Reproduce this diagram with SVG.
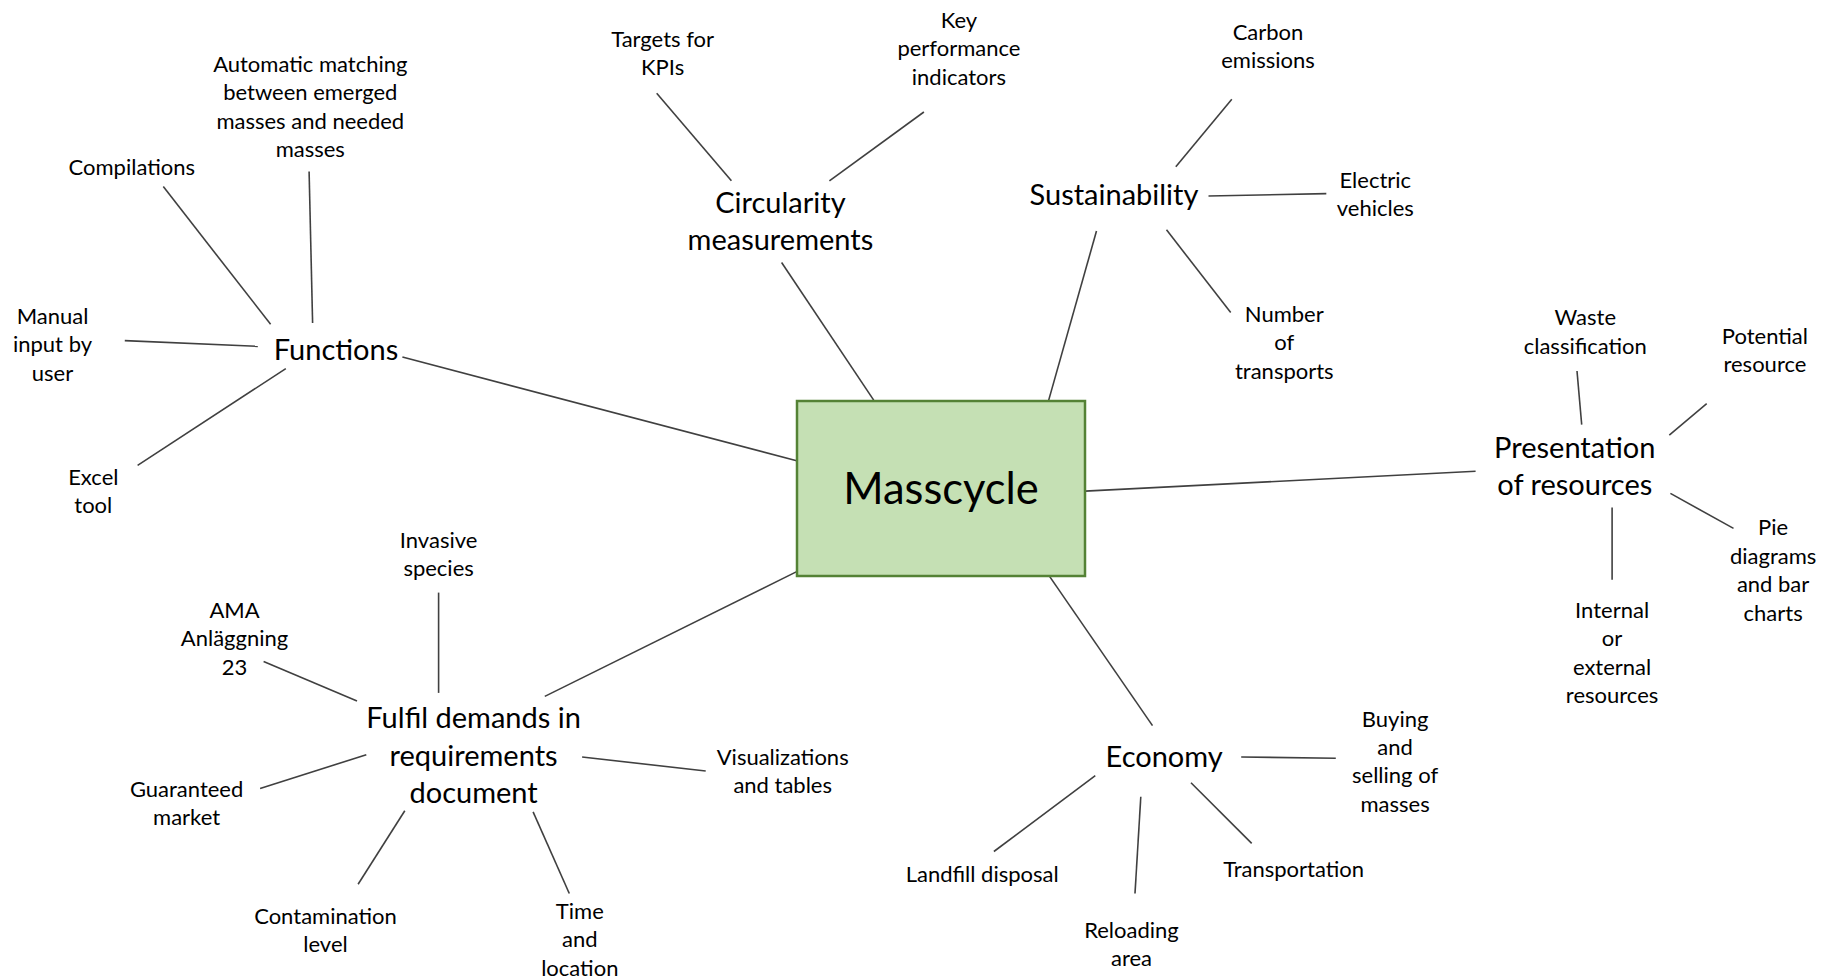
<svg xmlns="http://www.w3.org/2000/svg" width="1829" height="978" viewBox="0 0 1829 978">
<style>
.bg{fill:#ffffff}
.c line{stroke:#404040;stroke-width:1.6;fill:none}
.s{font-family:Lato,"Open Sans","Liberation Sans",sans-serif;font-size:22px;fill:#000;text-anchor:middle}
.b{font-family:Lato,"Open Sans","Liberation Sans",sans-serif;font-size:29px;fill:#000;text-anchor:middle}
.m{font-family:Lato,"Open Sans","Liberation Sans",sans-serif;font-size:43.5px;fill:#000;text-anchor:middle}
.box{fill:#C5E0B4;stroke:#548235;stroke-width:2.5}
</style>
<rect class="bg" x="0" y="0" width="1829" height="978"/>
<g id="connectors" class="c">
<line x1="163.3" y1="186.6" x2="270.6" y2="324.3"/>
<line x1="309.1" y1="171.5" x2="312.6" y2="323.1"/>
<line x1="124.8" y1="340.6" x2="257.8" y2="346.4"/>
<line x1="137.6" y1="465.4" x2="285.8" y2="368.6"/>
<line x1="402.4" y1="357" x2="796.7" y2="460.8"/>
<line x1="656.7" y1="93.3" x2="731.4" y2="180.8"/>
<line x1="923.9" y1="112" x2="829.4" y2="180.8"/>
<line x1="781.6" y1="262.5" x2="873.7" y2="400.1"/>
<line x1="1231.8" y1="99.2" x2="1175.8" y2="166.8"/>
<line x1="1208.5" y1="196" x2="1326.3" y2="193.6"/>
<line x1="1166.5" y1="229.8" x2="1230.7" y2="312.6"/>
<line x1="1096.5" y1="231" x2="1048.7" y2="400.1"/>
<line x1="1577" y1="371" x2="1581.7" y2="424.6"/>
<line x1="1706.7" y1="403.6" x2="1669.3" y2="435.1"/>
<line x1="1670.4" y1="493.4" x2="1733.5" y2="528.4"/>
<line x1="1612.1" y1="507.4" x2="1612.1" y2="579.8"/>
<line x1="1475.6" y1="471.3" x2="1085" y2="491.1"/>
<line x1="1241.2" y1="757" x2="1335.8" y2="758.2"/>
<line x1="993.9" y1="851.5" x2="1095.3" y2="775.7"/>
<line x1="1140.8" y1="796.7" x2="1135" y2="893.5"/>
<line x1="1191" y1="782.7" x2="1251.7" y2="843.4"/>
<line x1="1152.5" y1="725.6" x2="1048.7" y2="575.1"/>
<line x1="438.6" y1="592.6" x2="438.6" y2="692.9"/>
<line x1="263.6" y1="661.4" x2="357" y2="701.1"/>
<line x1="260.1" y1="788.6" x2="366.3" y2="754.7"/>
<line x1="358.1" y1="884.2" x2="404.8" y2="810.7"/>
<line x1="569.3" y1="893.5" x2="533.1" y2="811.9"/>
<line x1="705.7" y1="771" x2="582.1" y2="757"/>
<line x1="544.8" y1="696.4" x2="796.7" y2="571.6"/>
</g>
<g id="masscycle">
<rect class="box" x="797" y="401" width="288" height="175"/>
<text class="m" x="941" y="503.5">Masscycle</text>
</g>
<g id="functions"><text class="b" x="336" y="359.5">Functions</text></g>
<g id="automatic-matching"><text class="s" x="310.3" y="72">Automatic matching</text><text class="s" x="310.3" y="100.4">between emerged</text><text class="s" x="310.3" y="128.8">masses and needed</text><text class="s" x="310.3" y="157.2">masses</text></g>
<g id="compilations"><text class="s" x="131.8" y="175">Compilations</text></g>
<g id="manual-input"><text class="s" x="52.5" y="324">Manual</text><text class="s" x="52.5" y="352.4">input by</text><text class="s" x="52.5" y="380.8">user</text></g>
<g id="excel-tool"><text class="s" x="93.3" y="485">Excel</text><text class="s" x="93.3" y="513.4">tool</text></g>
<g id="circularity"><text class="b" x="780.4" y="212.5">Circularity</text><text class="b" x="780.4" y="250.2">measurements</text></g>
<g id="targets"><text class="s" x="662.6" y="46.5">Targets for</text><text class="s" x="662.6" y="74.9">KPIs</text></g>
<g id="kpi"><text class="s" x="958.9" y="28">Key</text><text class="s" x="958.9" y="56.4">performance</text><text class="s" x="958.9" y="84.8">indicators</text></g>
<g id="sustainability"><text class="b" x="1114" y="204.5">Sustainability</text></g>
<g id="carbon"><text class="s" x="1268" y="39.5">Carbon</text><text class="s" x="1268" y="67.9">emissions</text></g>
<g id="electric"><text class="s" x="1375.3" y="187.6">Electric</text><text class="s" x="1375.3" y="216">vehicles</text></g>
<g id="transports"><text class="s" x="1284.3" y="322">Number</text><text class="s" x="1284.3" y="350.4">of</text><text class="s" x="1284.3" y="378.8">transports</text></g>
<g id="presentation"><text class="b" x="1574.8" y="457.5">Presentation</text><text class="b" x="1574.8" y="495.2">of resources</text></g>
<g id="waste"><text class="s" x="1585.3" y="325.3">Waste</text><text class="s" x="1585.3" y="353.7">classification</text></g>
<g id="potential"><text class="s" x="1764.9" y="344">Potential</text><text class="s" x="1764.9" y="372.4">resource</text></g>
<g id="pie"><text class="s" x="1773.1" y="535.3">Pie</text><text class="s" x="1773.1" y="563.7">diagrams</text><text class="s" x="1773.1" y="592.1">and bar</text><text class="s" x="1773.1" y="620.5">charts</text></g>
<g id="internal"><text class="s" x="1612.1" y="618">Internal</text><text class="s" x="1612.1" y="646.4">or</text><text class="s" x="1612.1" y="674.8">external</text><text class="s" x="1612.1" y="703.2">resources</text></g>
<g id="economy"><text class="b" x="1164.2" y="766.5">Economy</text></g>
<g id="buying"><text class="s" x="1395.1" y="726.6">Buying</text><text class="s" x="1395.1" y="755">and</text><text class="s" x="1395.1" y="783.4">selling of</text><text class="s" x="1395.1" y="811.8">masses</text></g>
<g id="landfill"><text class="s" x="982.2" y="881.7">Landfill disposal</text></g>
<g id="reloading"><text class="s" x="1131.5" y="937.7">Reloading</text><text class="s" x="1131.5" y="966.1">area</text></g>
<g id="transportation"><text class="s" x="1293.6" y="877">Transportation</text></g>
<g id="fulfil"><text class="b" x="473.6" y="728">Fulfil demands in</text><text class="b" x="473.6" y="765.7">requirements</text><text class="b" x="473.6" y="803.4">document</text></g>
<g id="invasive"><text class="s" x="438.6" y="548">Invasive</text><text class="s" x="438.6" y="576.4">species</text></g>
<g id="ama"><text class="s" x="234.5" y="618">AMA</text><text class="s" x="234.5" y="646.4">Anläggning</text><text class="s" x="234.5" y="674.8">23</text></g>
<g id="guaranteed"><text class="s" x="186.6" y="796.6">Guaranteed</text><text class="s" x="186.6" y="825">market</text></g>
<g id="contamination"><text class="s" x="325.5" y="923.7">Contamination</text><text class="s" x="325.5" y="952.1">level</text></g>
<g id="time"><text class="s" x="579.8" y="919">Time</text><text class="s" x="579.8" y="947.4">and</text><text class="s" x="579.8" y="975.8">location</text></g>
<g id="visualizations"><text class="s" x="782.7" y="765">Visualizations</text><text class="s" x="782.7" y="793.4">and tables</text></g>
</svg>
